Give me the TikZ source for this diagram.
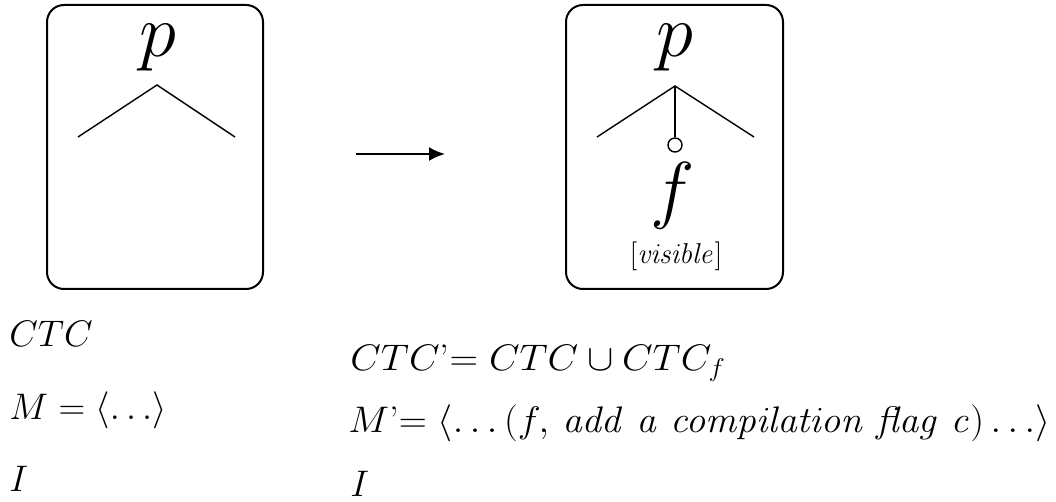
\documentclass[tikz,border=0pt]{standalone}
\usepackage{graphicx}
\usetikzlibrary{arrows.meta}
\tikzset{
  frame/.style={draw, line width=1pt, rounded corners=8.5pt},
  branch/.style={draw, line width=0.7pt},
  big/.style={font=\Huge, scale=1.507, inner sep=0pt, anchor=base},
  small/.style={font=\Large, scale=1.0, inner sep=0pt, anchor=base},
  info/.style={font=\LARGE, scale=1.07, inner sep=0pt, anchor=base west},
  wide/.style={font=\LARGE, inner sep=0pt, anchor=base west},
  flow/.style={line width=1.1pt, -{Latex[length=8pt,width=7pt]}}
}
\begin{document}
\begin{tikzpicture}[x=0.5pt,y=-0.5pt]
\useasboundingbox (0,0) rectangle (1056,502);
% left box
\draw[frame] (47,5) rectangle (263,289);
\node[big] (p1) at (158,57) {$p$};
\coordinate (a1) at (157,85);
\coordinate (l1) at (78,137);
\coordinate (r1) at (235,137);
\draw[branch] (l1) -- (a1) -- (r1);
% arrow
\coordinate (s) at (356,154);
\coordinate (e) at (445,154);
\draw[flow] (s) -- (e);
% right box
\draw[frame] (566,5) rectangle (783,289);
\node[big] (p2) at (675,57) {$p$};
\coordinate (a2) at (675,86);
\coordinate (l2) at (597,137);
\coordinate (r2) at (754,137);
\draw[branch] (l2) -- (a2) -- (r2);
\node[draw, circle, line width=0.7pt, minimum size=7pt, inner sep=0pt] (c) at (675,145) {};
\draw[branch] (a2) -- (c);
\node[big] (f) at (673,215) {$f$};
\node[small] (vis) at (676,264) {$[\mathit{visible}]$};
% left texts
\node[info] (ctc) at (9,347) {$CTC$};
\node[info] (m) at (9,420) {$M=\langle\ldots\rangle$};
\node[info] (i1) at (9,492) {$I$};
% right texts
\node[info, xscale=1.07] (ctc2) at (350,371) {$CTC$\textquoteright$=CTC\cup CTC_f$};
\node[wide] (m2) at (348,433) {\resizebox{351pt}{1.07\height}{$M$\textquoteright$=\langle\ldots(f,\,\mathit{add\ a\ compilation\ flag\ c})\ldots\rangle$}};
\node[info] (i2) at (350,496) {$I$};
\end{tikzpicture}
\end{document}
